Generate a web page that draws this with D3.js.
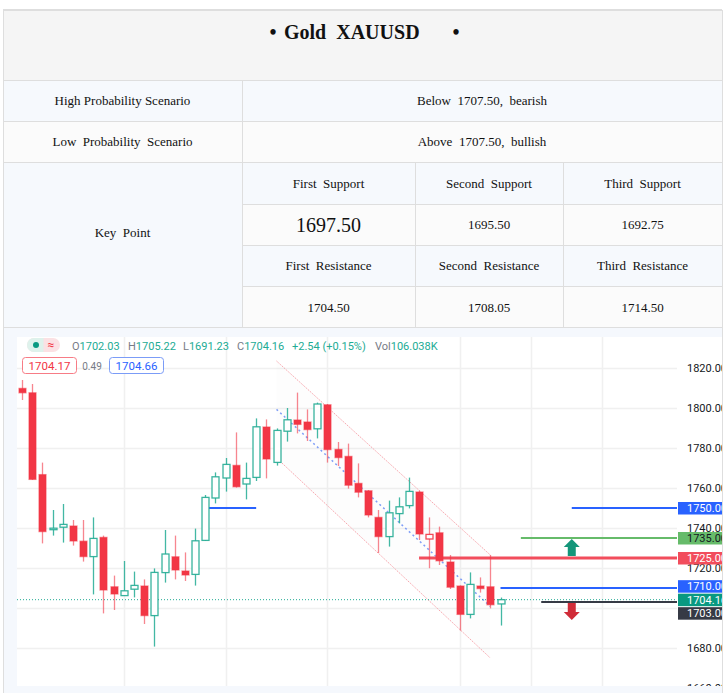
<!DOCTYPE html>
<html>
<head>
<meta charset="utf-8">
<script src="https://cdn.jsdelivr.net/npm/d3@7"></script>
<style>
  html, body { margin: 0; padding: 0; background: #ffffff; }
  svg { display: block; }
  text { white-space: pre; }
</style>
</head>
<body>
<svg id="chart" width="727" height="693"></svg>
<script>
// ---------------- DATA ----------------
const titleText = "Gold  XAUUSD";
const scenarioLabels = ["High Probability Scenario", "Low  Probability  Scenario"];
const scenarioValues = ["Below  1707.50,  bearish", "Above  1707.50,  bullish"];
const keyPointLabel = "Key  Point";
const supportLabels = ["First  Support", "Second  Support", "Third  Support"];
const supportValues = ["1697.50", "1695.50", "1692.75"];
const resistanceLabels = ["First  Resistance", "Second  Resistance", "Third  Resistance"];
const resistanceValues = ["1704.50", "1708.05", "1714.50"];

// candles (oldest -> newest)
const candleOpen  = [1809.8,1807.6,1766.7,1739.4,1740.4,1741.0,1733.4,1725.7,1735.3,1710.6,1706.2,1709.4,
                     1711.0,1696.2,1717.7,1725.6,1718.5,1716.8,1733.8,1755.0,1765.0,1771.3,1762.0,1765.3,
                     1790.5,1772.8,1788.4,1794.0,1793.0,1789.6,1801.6,1779.3,1775.8,1762.3,1758.6,1745.3,
                     1735.7,1747.2,1751.2,1758.0,1734.5,1737.6,1723.0,1711.0,1696.8,1711.0,1710.6,1702.03];
const candleHigh  = [1814.0,1812.0,1772.7,1749.0,1752.0,1744.0,1744.0,1745.3,1736.2,1716.2,1723.5,1718.2,
                     1714.3,1719.8,1739.0,1736.2,1727.8,1739.7,1756.5,1767.8,1775.0,1787.8,1772.7,1794.8,
                     1794.3,1789.8,1800.0,1807.7,1799.3,1802.7,1802.0,1783.0,1782.2,1772.3,1759.0,1749.0,
                     1753.7,1755.3,1765.2,1758.7,1745.3,1740.7,1726.5,1711.3,1717.8,1715.3,1726.5,1705.22];
const candleLow   = [1804.0,1764.0,1732.3,1736.2,1732.7,1731.2,1723.2,1706.8,1697.3,1699.0,1706.1,1705.3,
                     1692.0,1680.7,1712.7,1714.3,1713.5,1711.2,1733.5,1752.3,1758.2,1760.2,1754.3,1763.5,
                     1764.8,1771.2,1783.2,1787.3,1783.5,1784.8,1772.7,1771.0,1759.7,1755.3,1745.3,1727.5,
                     1730.7,1742.3,1749.8,1734.0,1719.9,1721.5,1709.5,1688.7,1694.8,1707.7,1699.8,1691.23];
const candleClose = [1807.6,1764.3,1738.2,1739.9,1741.8,1733.5,1725.7,1734.8,1709.0,1707.0,1708.6,1711.3,
                     1696.2,1717.8,1727.0,1719.0,1716.5,1733.6,1755.3,1765.6,1771.8,1760.6,1764.8,1790.6,
                     1774.5,1788.8,1794.1,1791.8,1789.2,1802.0,1779.2,1775.2,1761.4,1757.9,1746.5,1735.7,
                     1747.6,1750.6,1758.3,1737.0,1736.8,1723.6,1710.4,1696.8,1711.8,1709.7,1701.62,1704.16];

const priceTicks = [1660, 1680, 1700, 1720, 1740, 1760, 1780, 1800, 1820];
const timeGridIdx = [10, 20, 30, 43, 50, 57];

// drawings (bar index, price)
const channelIdx   = [25, 46];
const channelUpper = [1823.5, 1726.5];
const channelMid   = [1799.3, 1700.8];
const channelLower = [1775.0, 1675.0];

const leftLevelIdx = [18, 23];
const leftLevelPrice = 1750;

const levelPrices = [1750, 1735, 1725, 1710, 1703];
const levelStart  = [54, 49, 39, 47, 51];
const levelColors = ["#2962ff", "#66bb6a", "#f24d5c", "#2962ff", "#363a45"];
const levelText   = ["#ffffff", "#131722", "#ffffff", "#ffffff", "#ffffff"];

const lastPrice = 1704.16;
const arrowIdx = 54;
const arrowUpPrice = 1734.5;
const arrowDownPrice = 1694.0;

const ohlcLegend = { O: "1702.03", H: "1705.22", L: "1691.23", C: "1704.16", chg: "+2.54 (+0.15%)", vol: "106.038K" };
const bidAsk = ["1704.17", "0.49", "1704.66"];

// ---------------- DRAW ----------------
const svg = d3.select("#chart");
const serif = "'Liberation Serif', 'Times New Roman', serif";
const sans = "Roboto, 'Noto Sans', 'Liberation Sans', sans-serif";

// ---- table ----
const T = { left: 3, right: 722, top: 10, r1: 80, r2: 121, r3: 162, r4: 204, r5: 245, r6: 286, bottom: 327,
            c1: 242, c2: 415, c3: 563 };
const blueBg = "#f6f9fd", greyBg = "#fbfbfb";
svg.append("rect").attr("x", T.left).attr("y", T.top).attr("width", T.right - T.left).attr("height", T.r1 - T.top).attr("fill", "#f5f5f5");
svg.append("rect").attr("x", T.left).attr("y", T.r1).attr("width", T.right - T.left).attr("height", T.r2 - T.r1).attr("fill", blueBg);
svg.append("rect").attr("x", T.left).attr("y", T.r2).attr("width", T.right - T.left).attr("height", T.r3 - T.r2).attr("fill", greyBg);
svg.append("rect").attr("x", T.left).attr("y", T.r3).attr("width", T.c1 - T.left).attr("height", T.bottom - T.r3).attr("fill", blueBg);
[[T.r3, T.r4, blueBg], [T.r4, T.r5, greyBg], [T.r5, T.r6, blueBg], [T.r6, T.bottom, greyBg]].forEach(([a, b, c]) => {
  svg.append("rect").attr("x", T.c1).attr("y", a).attr("width", T.right - T.c1).attr("height", b - a).attr("fill", c);
});
const lineColor = "#dedede";
const hl = (y, x1, x2, w) => svg.append("line").attr("x1", x1).attr("x2", x2).attr("y1", y).attr("y2", y).attr("stroke", lineColor).attr("stroke-width", w || 1);
const vl = (x, y1, y2) => svg.append("line").attr("x1", x).attr("x2", x).attr("y1", y1).attr("y2", y2).attr("stroke", lineColor).attr("stroke-width", 1);
hl(T.top, T.left, T.right, 2); hl(T.r1 + 0.5, T.left, T.right); hl(T.r2 + 0.5, T.left, T.right); hl(T.r3 + 0.5, T.left, T.right);
hl(T.r4 + 0.5, T.c1, T.right); hl(T.r5 + 0.5, T.c1, T.right); hl(T.r6 + 0.5, T.c1, T.right); hl(T.bottom + 0.5, T.left, T.right);
vl(T.left + 0.5, T.top, T.bottom); vl(T.right + 0.5, T.top, T.bottom); vl(T.c1 + 0.5, T.r1, T.bottom);
vl(T.c2 + 0.5, T.r3, T.bottom); vl(T.c3 + 0.5, T.r3, T.bottom);

const txt = (x, y, s, size, opts = {}) => svg.append("text").attr("x", x).attr("y", y).text(s)
  .attr("font-family", opts.family || serif).attr("font-size", size).attr("fill", opts.fill || "#111")
  .attr("font-weight", opts.weight || "normal").attr("text-anchor", opts.anchor || "middle");

// title
txt(273, 39, "•", 20, { weight: "bold" });
txt(284, 39, titleText, 20, { weight: "bold", anchor: "start" });
txt(456, 39, "•", 20, { weight: "bold" });

const c1x = (T.left + T.c1) / 2, cWide = (T.c1 + T.right) / 2;
scenarioLabels.forEach((s, i) => txt(c1x, [105, 146][i], s, 13));
scenarioValues.forEach((s, i) => txt(cWide, [105, 146][i], s, 13));
txt(c1x, 237, keyPointLabel, 13);
const colCenters = [(T.c1 + T.c2) / 2, (T.c2 + T.c3) / 2, (T.c3 + T.right) / 2];
supportLabels.forEach((s, i) => txt(colCenters[i], 188, s, 13));
supportValues.forEach((s, i) => txt(colCenters[i], i === 0 ? 232 : 229, s, i === 0 ? 20 : 13));
resistanceLabels.forEach((s, i) => txt(colCenters[i], 270, s, 13));
resistanceValues.forEach((s, i) => txt(colCenters[i], 312, s, 13));

// ---- chart panel ----
const P = { left: 17, right: 722, top: 337, bottom: 686, axisX: 677 };
svg.append("rect").attr("x", T.left).attr("y", T.bottom + 1).attr("width", P.right - T.left).attr("height", 693 - T.bottom).attr("fill", "#f5f8fd");
svg.append("line").attr("x1", T.left + 0.5).attr("x2", T.left + 0.5).attr("y1", T.bottom).attr("y2", 693).attr("stroke", lineColor);
svg.append("line").attr("x1", P.right + 0.5).attr("x2", P.right + 0.5).attr("y1", T.bottom).attr("y2", 693).attr("stroke", lineColor);
svg.append("rect").attr("x", P.left).attr("y", P.top).attr("width", P.right - P.left).attr("height", P.bottom - P.top).attr("fill", "#ffffff");

const defs = svg.append("defs");
defs.append("clipPath").attr("id", "plotClip").append("rect")
  .attr("x", P.left).attr("y", P.top).attr("width", P.axisX - P.left).attr("height", P.bottom - P.top);
defs.append("clipPath").attr("id", "panelClip").append("rect")
  .attr("x", P.left).attr("y", P.top).attr("width", P.right - P.left).attr("height", P.bottom - P.top);

const x = d3.scaleLinear().domain([0, candleClose.length - 1]).range([22, 500.5]);
const y = d3.scaleLinear().domain([1680, 1820]).range([648, 368]);
const step = x(1) - x(0);
const bodyW = Math.round(step * 0.7);

const plot = svg.append("g").attr("clip-path", "url(#plotClip)");

// grid
plot.selectAll(".hgrid").data(priceTicks).join("line")
  .attr("x1", P.left).attr("x2", P.axisX).attr("y1", d => Math.round(y(d)) + 0.5).attr("y2", d => Math.round(y(d)) + 0.5)
  .attr("stroke", "#f0f0f0").attr("stroke-width", 1.5);
plot.selectAll(".vgrid").data(timeGridIdx).join("line")
  .attr("x1", d => Math.round(x(d)) + 0.5).attr("x2", d => Math.round(x(d)) + 0.5).attr("y1", P.top).attr("y2", P.bottom)
  .attr("stroke", "#f0f0f0").attr("stroke-width", 1.5);

// channel
const chPoly = [[x(channelIdx[0]), y(channelUpper[0])], [x(channelIdx[1]), y(channelUpper[1])],
                [x(channelIdx[1]), y(channelLower[1])], [x(channelIdx[0]), y(channelLower[0])]];
plot.append("path").attr("d", d3.line()(chPoly) + "Z").attr("fill", "#000").attr("fill-opacity", 0.008);
[channelUpper, channelLower].forEach(arr => {
  plot.append("line").attr("x1", x(channelIdx[0])).attr("y1", y(arr[0])).attr("x2", x(channelIdx[1])).attr("y2", y(arr[1]))
    .attr("stroke", "#f7a7ae").attr("stroke-width", 1).attr("stroke-dasharray", "1.5,1");
});
plot.append("line").attr("x1", x(channelIdx[0])).attr("y1", y(channelMid[0])).attr("x2", x(channelIdx[1])).attr("y2", y(channelMid[1]))
  .attr("stroke", "#7f9ef7").attr("stroke-width", 1.5).attr("stroke-dasharray", "2,3");

// left level segment
plot.append("line").attr("x1", x(leftLevelIdx[0])).attr("x2", x(leftLevelIdx[1]))
  .attr("y1", y(leftLevelPrice)).attr("y2", y(leftLevelPrice)).attr("stroke", "#2962ff").attr("stroke-width", 2);

// last price dotted line
plot.append("line").attr("x1", P.left).attr("x2", P.axisX).attr("y1", y(lastPrice)).attr("y2", y(lastPrice))
  .attr("stroke", "#22ab94").attr("stroke-width", 1).attr("stroke-dasharray", "1,2");

// horizontal levels (right side)
levelPrices.forEach((p, i) => {
  plot.append("line").attr("x1", x(levelStart[i])).attr("x2", P.axisX).attr("y1", y(p)).attr("y2", y(p))
    .attr("stroke", levelColors[i]).attr("stroke-width", p === 1725 ? 3 : 2);
});

// candles
const red = "#f23645", green = "#22ab94";
const candles = candleClose.map((c, i) => ({
  i, o: candleOpen[i], h: candleHigh[i], l: candleLow[i], c,
  hollow: c > candleOpen[i],
  col: (i > 0 && c >= candleClose[i - 1]) ? green : red
}));
const cg = plot.append("g");
cg.selectAll(".wick").data(candles).join("line")
  .attr("x1", d => Math.round(x(d.i)) + 0.5).attr("x2", d => Math.round(x(d.i)) + 0.5)
  .attr("y1", d => y(d.h)).attr("y2", d => y(d.l))
  .attr("stroke", d => d.col).attr("stroke-opacity", d => d.col === red ? 0.6 : 0.85).attr("stroke-width", 1.3);
cg.selectAll(".body").data(candles).join("rect")
  .attr("x", d => Math.round(x(d.i)) + 0.5 - bodyW / 2)
  .attr("y", d => y(Math.max(d.o, d.c)))
  .attr("width", bodyW)
  .attr("height", d => Math.max(1.5, Math.abs(y(d.o) - y(d.c))))
  .attr("fill", d => d.hollow ? "#ffffff" : d.col)
  .attr("stroke", d => d.col).attr("stroke-opacity", d => d.hollow ? 0.9 : 0.55).attr("stroke-width", 1.3);

// arrows
const ax = x(arrowIdx);
const upTop = y(arrowUpPrice);
plot.append("path").attr("fill", "#14967a")
  .attr("d", `M${ax},${upTop} L${ax + 8},${upTop + 8} L${ax + 4},${upTop + 8} L${ax + 4},${upTop + 17} L${ax - 4},${upTop + 17} L${ax - 4},${upTop + 8} L${ax - 8},${upTop + 8} Z`);
const dnTip = y(arrowDownPrice);
plot.append("path").attr("fill", "#d02c38")
  .attr("d", `M${ax},${dnTip} L${ax + 8},${dnTip - 8} L${ax + 4},${dnTip - 8} L${ax + 4},${dnTip - 17} L${ax - 4},${dnTip - 17} L${ax - 4},${dnTip - 8} L${ax - 8},${dnTip - 8} Z`);

// price labels with collision resolution
const labels = levelPrices.map((p, i) => ({ p, bg: levelColors[i], fg: levelText[i], ty: y(p) }));
labels.push({ p: lastPrice, bg: "#089981", fg: "#ffffff", ty: y(lastPrice), anchor: true });
labels.sort((a, b) => a.ty - b.ty);
const gap = 13.5;
const ai = labels.findIndex(d => d.anchor);
for (let k = ai + 1; k < labels.length; k++) labels[k].ty = Math.max(labels[k].ty, labels[k - 1].ty + gap);
for (let k = ai - 1; k >= 0; k--) labels[k].ty = Math.min(labels[k].ty, labels[k + 1].ty - gap);

// price axis (ticks hidden where a price label covers them)
const visibleTicks = priceTicks.filter(t => labels.every(l => Math.abs(l.ty - y(t)) >= 9));
const panel = svg.append("g").attr("clip-path", "url(#panelClip)");
panel.append("rect").attr("x", P.axisX).attr("y", P.top).attr("width", P.right - P.axisX).attr("height", P.bottom - P.top).attr("fill", "#fff");
const axisG = panel.append("g").attr("transform", `translate(${P.axisX},0)`)
  .call(d3.axisRight(y).tickValues(visibleTicks).tickFormat(d3.format(".2f")).tickSize(0).tickPadding(10));
axisG.select(".domain").remove();
axisG.selectAll("text").attr("font-family", sans).attr("font-size", 11).attr("fill", "#131722");

const lg = panel.selectAll(".plabel").data(labels).join("g");
lg.append("rect").attr("x", P.axisX + 1).attr("y", d => d.ty - 6).attr("width", 50).attr("height", 12.5).attr("fill", d => d.bg);
lg.append("text").attr("x", P.axisX + 10).attr("y", d => d.ty + 4).text(d => d3.format(".2f")(d.p))
  .attr("font-family", sans).attr("font-size", 11).attr("fill", d => d.fg);

// legend header
const leg = svg.append("g");
leg.append("rect").attr("x", 27).attr("y", 338).attr("width", 33).attr("height", 14).attr("rx", 7).attr("fill", "#fbe1e4");
leg.append("path").attr("d", "M34,338 h9.5 v14 h-9.5 a7,7 0 0 1 0,-14 Z").attr("fill", "#def2ec");
leg.append("circle").attr("cx", 36).attr("cy", 345).attr("r", 3).attr("fill", "#089981");
leg.append("text").attr("x", 51).attr("y", 349).attr("text-anchor", "middle").text("≈")
  .attr("font-family", sans).attr("font-size", 12).attr("fill", "#f23645");
const legItems = [
  [72, "O", ohlcLegend.O], [128, "H", ohlcLegend.H], [183, "L", ohlcLegend.L], [237, "C", ohlcLegend.C]
];
legItems.forEach(([lx, k, v]) => {
  const t = leg.append("text").attr("x", lx).attr("y", 350).attr("font-family", sans).attr("font-size", 11);
  t.append("tspan").text(k).attr("fill", "#787b86");
  t.append("tspan").text(v).attr("fill", "#22ab94");
});
leg.append("text").attr("x", 292).attr("y", 350).text(ohlcLegend.chg).attr("font-family", sans).attr("font-size", 11).attr("fill", "#22ab94");
const vt = leg.append("text").attr("x", 375).attr("y", 350).attr("font-family", sans).attr("font-size", 11);
vt.append("tspan").text("Vol").attr("fill", "#787b86");
vt.append("tspan").text(ohlcLegend.vol).attr("fill", "#22ab94");

leg.append("rect").attr("x", 22.5).attr("y", 357.5).attr("width", 54).attr("height", 16).attr("rx", 3)
  .attr("fill", "#fff").attr("stroke", "#f77c86");
leg.append("text").attr("x", 49.5).attr("y", 369.5).attr("text-anchor", "middle").text(bidAsk[0])
  .attr("font-family", sans).attr("font-size", 11.5).attr("fill", "#f23645");
leg.append("text").attr("x", 92).attr("y", 369.5).attr("text-anchor", "middle").text(bidAsk[1])
  .attr("font-family", sans).attr("font-size", 10).attr("fill", "#787b86");
leg.append("rect").attr("x", 109.5).attr("y", 357.5).attr("width", 54).attr("height", 16).attr("rx", 3)
  .attr("fill", "#fff").attr("stroke", "#7b9cf7");
leg.append("text").attr("x", 136.5).attr("y", 369.5).attr("text-anchor", "middle").text(bidAsk[2])
  .attr("font-family", sans).attr("font-size", 11.5).attr("fill", "#2962ff");
</script>
</body>
</html>
